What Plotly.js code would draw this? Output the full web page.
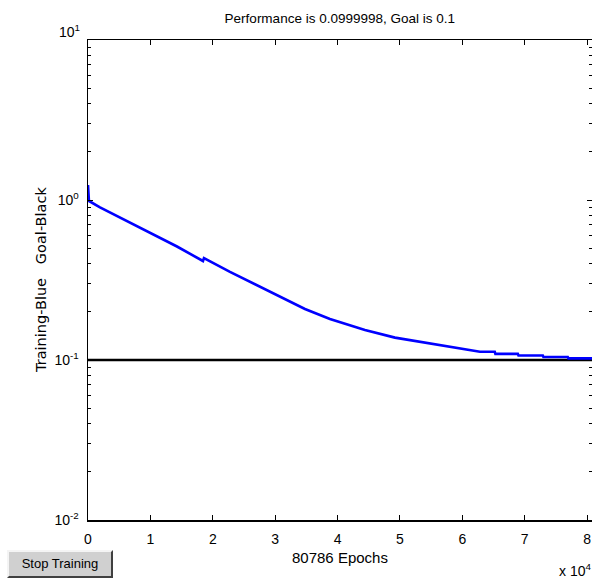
<!DOCTYPE html>
<html>
<head>
<meta charset="utf-8">
<script src="https://cdn.plot.ly/plotly-3.0.1.min.js"></script>
<style>
  html, body { margin: 0; padding: 0; background: #fff; }
  #wrap { position: relative; width: 592px; height: 581px; overflow: hidden; }
  #chart { position: absolute; left: 0; top: 0; width: 592px; height: 581px; }
  #stopbtn {
    position: absolute; left: 7px; top: 550px; width: 102px; height: 24px;
    background: #d0d0d0;
    border-top: 2px solid #f4f4f4; border-left: 2px solid #f4f4f4;
    border-right: 2px solid #404040; border-bottom: 2px solid #404040;
    font-family: "Liberation Sans Narrow", "Liberation Sans", Arial, sans-serif;
    font-size: 13px; color: #000; text-align: center; line-height: 24px;
  }
</style>
</head>
<body>
<div id="wrap">
  <div id="chart"></div>
  <div id="stopbtn">Stop Training</div>
</div>
<script>
// ---- data ----
const epochs = [0, 150, 1923, 5128, 9776, 14263, 18429, 18590, 22756, 27564, 31891, 34776, 38782, 44391, 49199, 54808, 59135, 62821, 65200, 65300, 68900, 69000, 72900, 73000, 76900, 77000, 80786];
const performance = [1.24, 0.986, 0.898, 0.777, 0.631, 0.512, 0.4157, 0.434, 0.355, 0.288, 0.237, 0.2084, 0.1804, 0.154, 0.138, 0.1268, 0.1197, 0.1125, 0.1125, 0.1092, 0.1092, 0.1067, 0.1067, 0.1044, 0.1044, 0.1024, 0.1024];
const goalX = [0, 80786];
const goalY = [0.1, 0.1];
const xTickVals = [0, 10000, 20000, 30000, 40000, 50000, 60000, 70000, 80000];
const xTickText = ["0", "1", "2", "3", "4", "5", "6", "7", "8"];
const yTickVals = [0.01, 0.1, 1, 10];
const yTickText = ["10<sup>-2</sup>", "10<sup>-1</sup>", "10<sup>0</sup>", ""];
const yTopLabel = "10<sup>1</sup>";
const yMinorVals = [];
[0.01, 0.1, 1].forEach(d => { for (let k = 2; k <= 9; k++) yMinorVals.push(d * k); });

const FONT = "Liberation Sans, Arial, sans-serif";

const traces = [
  { x: goalX, y: goalY, mode: "lines", line: { color: "#000000", width: 2.5 }, hoverinfo: "skip", showlegend: false },
  { x: epochs, y: performance, mode: "lines", line: { color: "#0000ff", width: 2.6 }, hoverinfo: "skip", showlegend: false }
];

const layout = {
  width: 592, height: 581,
  margin: { l: 88, r: 0, t: 40, b: 61, pad: 0 },
  paper_bgcolor: "#ffffff", plot_bgcolor: "#ffffff",
  font: { family: FONT, size: 14, color: "#000" },
  showlegend: false,
  title: { text: "Performance is 0.0999998, Goal is 0.1", font: { family: FONT, size: 13.5, color: "#000" },
           x: 0.574, xanchor: "center", y: 0.969, yanchor: "middle" },
  xaxis: {
    range: [0, 80786], tickmode: "array", tickvals: xTickVals, ticktext: xTickText,
    ticks: "inside", ticklen: 5, tickwidth: 1, tickcolor: "#000",
    showline: true, linecolor: "#000", linewidth: 1.5, mirror: "ticks",
    showgrid: false, zeroline: false, ticklabelstandoff: 6,
    tickfont: { family: FONT, size: 14 }
  },
  yaxis: {
    type: "log", range: [-2, 1], tickmode: "array", tickvals: yTickVals, ticktext: yTickText,
    ticks: "inside", ticklen: 5, tickwidth: 1, tickcolor: "#000",
    minor: { tickmode: "array", tickvals: yMinorVals, ticks: "inside", ticklen: 3, tickcolor: "#000", showgrid: false },
    showline: true, linecolor: "#000", linewidth: 1.5, mirror: "ticks",
    showgrid: false, zeroline: false, ticklabelstandoff: 5,
    tickfont: { family: FONT, size: 14 }
  },
  annotations: [
    { xref: "paper", yref: "paper", x: 0, y: 1, xanchor: "right", yanchor: "middle", xshift: -6, yshift: 9,
      text: yTopLabel, showarrow: false, font: { family: FONT, size: 14, color: "#000" } },
    { xref: "paper", yref: "paper", x: -0.0933, y: 0.5, xanchor: "center", yanchor: "middle", textangle: -90,
      text: "Training-Blue\u00a0\u00a0\u00a0Goal-Black", showarrow: false,
      font: { family: "DejaVu Sans, Liberation Sans, sans-serif", size: 14.5, color: "#000" } },
    { xref: "paper", yref: "paper", x: 0.5, y: -0.079, xanchor: "center", yanchor: "middle",
      text: "80786 Epochs", showarrow: false, font: { family: FONT, size: 15, color: "#000" } },
    { xref: "paper", yref: "paper", x: 0.93, y: -0.105, xanchor: "left", yanchor: "middle",
      text: "x 10<sup>4</sup>", showarrow: false, font: { family: FONT, size: 14, color: "#000" } }
  ]
};

Plotly.newPlot("chart", traces, layout, { displayModeBar: false, staticPlot: true });
</script>
</body>
</html>
